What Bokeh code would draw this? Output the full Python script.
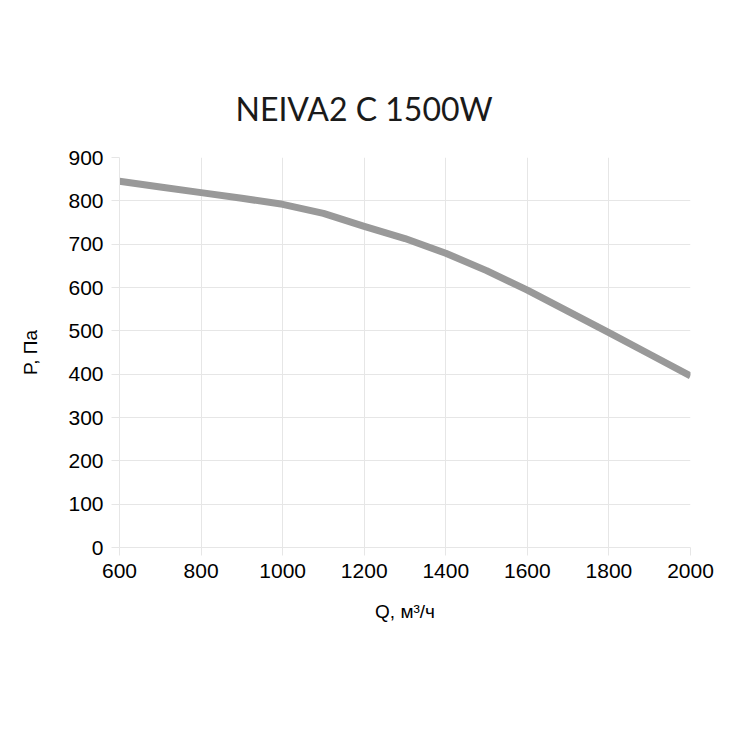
from bokeh.plotting import figure
from bokeh.models import Range1d, FixedTicker
from bokeh.embed import file_html
from bokeh.resources import INLINE

# Data
flow = [600, 700, 800, 900, 1000, 1100, 1200, 1300, 1400, 1500, 1600, 1700, 1800, 1900, 2000]
pressure = [845, 832, 819, 806, 792, 771, 741, 713, 679, 639, 594, 545, 496, 446, 396]
x_ticks = [600, 800, 1000, 1200, 1400, 1600, 1800, 2000]
y_ticks = [0, 100, 200, 300, 400, 500, 600, 700, 800, 900]
title_text = "NEIVA2 C 1500W"
x_label = "Q, м³/ч"
y_label = "P, Па"

p = figure(width=738, height=738, output_backend="svg", toolbar_location=None,
           x_range=Range1d(600, 2000), y_range=Range1d(0, 900),
           min_border_left=119, min_border_right=48, min_border_top=157, min_border_bottom=191)
p.outline_line_color = None
p.background_fill_color = "white"
p.border_fill_color = "white"

p.title.text = title_text
p.title.align = "left"
p.title.offset = 116
p.title.text_font = "Lato"
p.title.text_font_size = "32px"
p.title.text_font_style = "normal"
p.title.text_color = "#1a1a1a"
p.title.standoff = 60

grid_col = "#e6e6e6"
p.xgrid.grid_line_color = grid_col
p.ygrid.grid_line_color = grid_col
p.xaxis.ticker = FixedTicker(ticks=x_ticks)
p.yaxis.ticker = FixedTicker(ticks=y_ticks)
for ax in (p.xaxis[0], p.yaxis[0]):
    ax.axis_line_color = grid_col
    ax.major_tick_line_color = grid_col
    ax.major_tick_out = 8
    ax.major_tick_in = 0
    ax.minor_tick_line_color = None
    ax.major_label_text_font = "Liberation Sans"
    ax.major_label_text_font_size = "21px"
    ax.major_label_text_color = "#000000"
    ax.axis_label_text_font = "Liberation Sans"
    ax.axis_label_text_font_size = "19px"
    ax.axis_label_text_font_style = "normal"
    ax.axis_label_text_color = "#000000"
p.yaxis.major_label_standoff = 8
p.xaxis.major_label_standoff = 8
p.xaxis.axis_label = x_label
p.yaxis.axis_label = y_label
p.xaxis.axis_label_standoff = 20
p.yaxis.axis_label_standoff = 24

p.line(flow, pressure, line_color="#999999", line_width=7, line_join="round")

open("out.html", "w").write(file_html(p, INLINE))
